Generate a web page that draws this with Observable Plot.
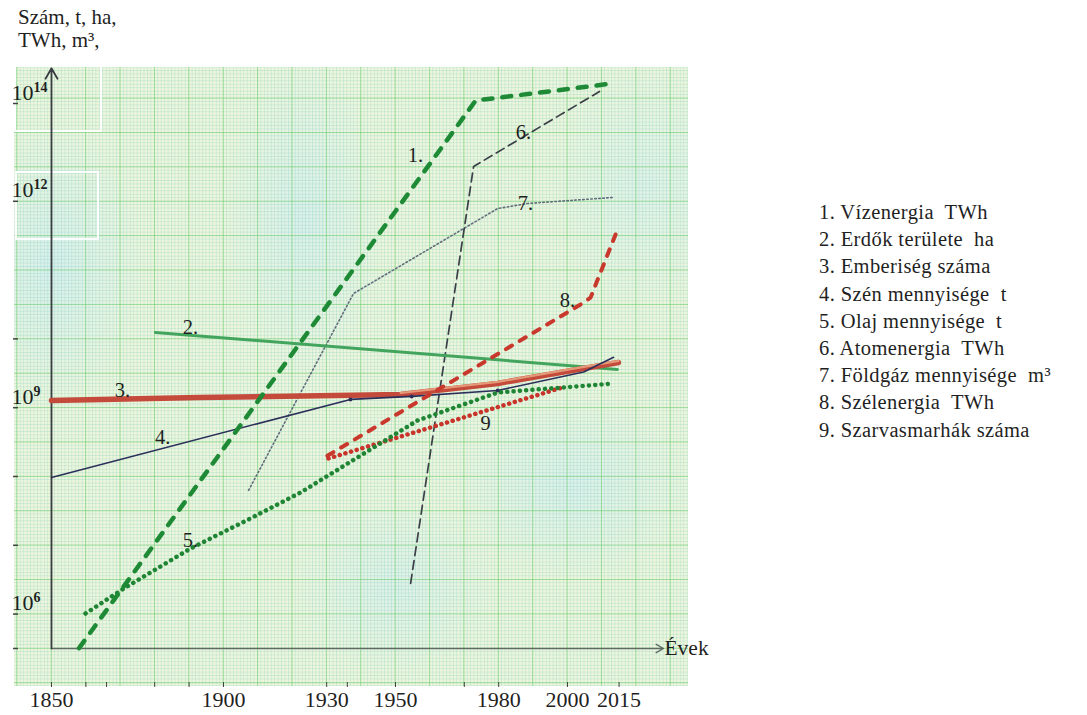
<!DOCTYPE html>
<html><head><meta charset="utf-8">
<script src="https://cdn.jsdelivr.net/npm/d3@7"></script>
<script src="https://cdn.jsdelivr.net/npm/@observablehq/plot@0.6"></script>
<style>
html,body{margin:0;padding:0;background:#fff;}
#wrap{position:relative;width:1087px;height:715px;overflow:hidden;font-family:"Liberation Serif","DejaVu Serif",serif;color:#1f1f1f;}
.paper{position:absolute;left:14px;top:67px;width:674px;height:619px;
 background-color:#edf6dc;
 background-image:
  linear-gradient(to right, rgba(110,205,105,0.55) 0 1.2px, transparent 1.2px),
  linear-gradient(to bottom, rgba(110,205,105,0.55) 0 1.2px, transparent 1.2px),
  linear-gradient(to right, rgba(130,205,190,0.3) 0 1px, transparent 1px),
  linear-gradient(to bottom, rgba(130,205,190,0.3) 0 1px, transparent 1px),
  radial-gradient(ellipse 90px 140px at 40px 200px, rgba(210,238,240,0.8), transparent),
  radial-gradient(ellipse 80px 160px at 290px 150px, rgba(210,238,240,0.7), transparent),
  radial-gradient(ellipse 120px 90px at 560px 420px, rgba(210,238,240,0.7), transparent),
  radial-gradient(ellipse 100px 90px at 380px 520px, rgba(210,238,240,0.6), transparent),
  radial-gradient(ellipse 90px 120px at 630px 120px, rgba(215,240,240,0.6), transparent);
 background-size:34.4px 34.4px,34.4px 34.4px,3.44px 3.44px,3.44px 3.44px,100% 100%,100% 100%,100% 100%,100% 100%,100% 100%;
 background-position:2.4px 0,0 30.6px,2.4px 0,0 30.6px,0 0,0 0,0 0,0 0,0 0;
 background-repeat:repeat,repeat,repeat,repeat,no-repeat,no-repeat,no-repeat,no-repeat,no-repeat;}
.box{position:absolute;border:2px solid rgba(255,255,255,0.95);}
#chart{position:absolute;left:0;top:0;}
#ytitle{position:absolute;left:18px;top:6px;font-size:21px;line-height:23px;}
#legend{position:absolute;left:819px;top:199px;font-size:20.5px;line-height:27.2px;white-space:pre;letter-spacing:0.4px;}
</style></head>
<body><div id="wrap">
<div class="paper"></div>
<div class="box" style="left:14px;top:66px;width:84px;height:64px;border-top:none;"></div>
<div class="box" style="left:15px;top:171px;width:80px;height:65px;"></div>
<div id="chart"></div>
<div id="ytitle">Szám, t, ha,<br>TWh, m³,</div>
<div id="legend"></div>
</div>
<script>
// ---- data ----
const hydroYear = [1858, 1973.3, 2013.7];
const hydroValue = [3.2e5, 1.15e14, 2.6e14];
const forestYear = [1880.2, 2014.5];
const forestValue = [1.24e10, 3.6e9];
const popYear = [1850, 1893, 1951.5, 1979.7, 2004.7, 2014.8];
const popValue = [1.27e9, 1.41e9, 1.55e9, 2.25e9, 3.72e9, 4.54e9];
const coalYear = [1850, 1936.9, 1954.7, 1979.7, 2004.7, 2013.4];
const coalValue = [9.7e7, 1.32e9, 1.46e9, 1.78e9, 3.3e9, 5.4e9];
const oilYear = [1859.9, 1871.5, 1890.4, 1907.8, 1922.4, 1956.4, 1979.7, 1998.8, 2013.4];
const oilValue = [1.02e6, 2.44e6, 8.97e6, 2.45e7, 5.85e7, 6.52e8, 1.66e9, 1.97e9, 2.25e9];
const atomYear = [1954.4, 1972.7, 2009.3];
const atomValue = [2.8e6, 5.15e12, 1.76e14];
const gasYear = [1907.3, 1937.8, 1979.7, 1988.4, 2013.4];
const gasValue = [6.3e7, 4.57e10, 7.85e11, 9.3e11, 1.2e12];
const windYear = [1930.2, 2003.8, 2006.7, 2014.2];
const windValue = [2.0e8, 3.16e10, 3.98e10, 3.52e11];
const cattleYear = [1930.5, 1999.4];
const cattleValue = [1.83e8, 2.03e9];

const labelText = ["1.", "2.", "3.", "4.", "5.", "6.", "7.", "8.", "9"];
const labelYear = [1955.8, 1890.4, 1870.6, 1882.3, 1890.4, 1987.2, 1987.8, 2000, 1976.2];
const labelValue = [8.7e12, 1.47e10, 1.78e9, 3.7e8, 1.17e7, 2.55e13, 9.3e11, 3.6e10, 5.9e8];

const legendItems = ["1. Vízenergia  TWh", "2. Erdők területe  ha", "3. Emberiség száma",
  "4. Szén mennyisége  t", "5. Olaj mennyisége  t", "6. Atomenergia  TWh",
  "7. Földgáz mennyisége  m³", "8. Szélenergia  TWh", "9. Szarvasmarhák száma"];

const xTickYears = [1850, 1900, 1930, 1950, 1980, 2000, 2015];
const xMinorTickYears = [1860, 1866, 1880, 1890, 1936, 1970];
const yTickValues = [1e6, 1e9, 1e12, 1e14];
const yTickExponents = ["6", "9", "12", "14"];
const yMinorTicks = [10 ** 5.5, 1e6, 1e7, 1e8, 1e9, 1e10, 1e12, 1e14];
const axisYears = [1850, 2027.9];
const axisValues = [10 ** 5.5, 10 ** 14.72];

// ---- build tables ----
const toRows = (ys, vs) => ys.map((y, i) => ({year: y, value: vs[i]}));
const hydro = toRows(hydroYear, hydroValue);
const forest = toRows(forestYear, forestValue);
const pop = toRows(popYear, popValue);
const coal = toRows(coalYear, coalValue);
const oil = toRows(oilYear, oilValue);
const atom = toRows(atomYear, atomValue);
const gas = toRows(gasYear, gasValue);
const wind = toRows(windYear, windValue);
const cattle = toRows(cattleYear, cattleValue);
const labels = labelText.map((t, i) => ({text: t, year: labelYear[i], value: labelValue[i]}));

const W = 720, H = 715;
const serif = "'Liberation Serif', 'DejaVu Serif', serif";
const L = (data, o) => Plot.line(data, {x: "year", y: "value", ...o});

const chart = Plot.plot({
  width: W, height: H,
  marginLeft: 51, marginRight: W - 618.6, marginTop: 67, marginBottom: 33,
  style: {background: "transparent", fontFamily: serif, fontSize: "21px", color: "#1f1f1f", overflow: "visible"},
  x: {domain: [1850, 2015], axis: null, label: null},
  y: {type: "log", domain: [1e5, 1e12, 1e14, 1e15], range: [682.4, 200.8, 103, 54.1], axis: null, label: null},
  marks: [
    // axes
    Plot.arrow([0], {x1: () => axisYears[0], x2: () => axisYears[1], y1: () => axisValues[0], y2: () => axisValues[0],
      stroke: "#5d6b64", strokeWidth: 1.4, headLength: 9}),
    Plot.arrow([0], {x1: () => axisYears[0], x2: () => axisYears[0], y1: () => axisValues[0], y2: () => axisValues[1],
      stroke: "#3a3d44", strokeWidth: 1.8, headLength: 10}),
    Plot.text(["Évek"], {x: () => axisYears[1], y: () => axisValues[0], text: d => d, textAnchor: "start", dx: 1,
      fontSize: 21.5, fontFamily: serif, fill: "#1f1f1f"}),
    Plot.axisX(xTickYears, {anchor: "bottom", tickSize: 5, tickPadding: 4, tickFormat: d => String(d), label: null,
      fontSize: 22, fontFamily: serif, stroke: "#444"}),
    Plot.axisX(xMinorTickYears, {anchor: "bottom", tickSize: 5, tickFormat: () => "", label: null, stroke: "#444"}),
    Plot.ruleY(yMinorTicks, {y: d => d, insetLeft: -38, insetRight: 600.6, stroke: "#444", strokeWidth: 1.5}),
    Plot.text(yTickValues, {y: d => d, text: (d, i) => "10^" + yTickExponents[i], frameAnchor: "left", dx: -40, dy: -4,
      textAnchor: "start", lineAnchor: "bottom", fontSize: 22, fontFamily: serif, fill: "#1f1f1f", className: "ytl"}),
    // series
    L(gas, {stroke: "#5f6c7b", strokeWidth: 1.6, strokeDasharray: "1.5 2.5"}),
    L(atom, {stroke: "#3b3f48", strokeWidth: 1.7, strokeDasharray: "9 5"}),
    L(forest, {stroke: "#43a55d", strokeWidth: 3}),
    L(pop, {stroke: "#c44a3b", strokeWidth: 5.5}),
    L(pop.filter(d => d.year >= 1930), {stroke: "#e49a78", strokeWidth: 2.2, dy: -1.6}),
    L(coal, {stroke: "#2b2f5a", strokeWidth: 1.6}),
    L(cattle, {stroke: "#c8342a", strokeWidth: 4.5, strokeDasharray: "0.1 5.8", strokeLinecap: "round"}),
    L(oil, {stroke: "#1f8433", strokeWidth: 4.5, strokeDasharray: "0.1 6.2", strokeLinecap: "round"}),
    L(wind, {stroke: "#c9382c", strokeWidth: 4, strokeDasharray: "7 9", strokeLinecap: "round"}),
    L(hydro, {stroke: "#1e8a36", strokeWidth: 4.5, strokeDasharray: "9 10", strokeLinecap: "round"}),
    Plot.dot(coal.slice(1, 4), {x: "year", y: "value", r: 2, fill: "#2b2f5a"}),
    // labels
    Plot.text(labels, {x: "year", y: "value", text: "text", fontSize: 20.5, fontFamily: serif, fill: "#1f1f1f"})
  ]
});
// render exponents as real superscripts
chart.querySelectorAll("g.ytl text").forEach(t => {
  const [base, exp] = t.textContent.split("^");
  t.textContent = base;
  const s = document.createElementNS("http://www.w3.org/2000/svg", "tspan");
  s.setAttribute("dy", "-8");
  s.setAttribute("font-size", "14");
  s.setAttribute("font-weight", "bold");
  s.textContent = exp;
  t.appendChild(s);
});
document.getElementById("chart").appendChild(chart);
document.getElementById("legend").textContent = legendItems.join("\n");
</script>
</body></html>
